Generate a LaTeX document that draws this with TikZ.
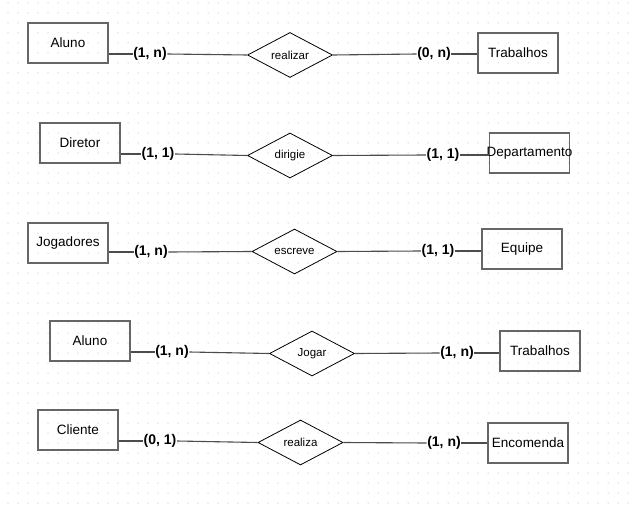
\documentclass[tikz,border=0pt]{standalone}
\usepackage{fontspec}
\setmainfont{Liberation Sans}
\usetikzlibrary{shapes.geometric}
\begin{document}
\begin{tikzpicture}[x=1pt,y=-1pt,
  entity/.style={draw=black!60, line width=1.6pt, minimum width=80pt, minimum height=40pt, inner sep=0pt, font=\fontsize{13.5}{16}\selectfont},
  rel/.style={draw=black, line width=0.8pt, diamond, aspect=1.9, minimum width=85pt, minimum height=45pt, inner sep=0pt, font=\fontsize{11.5}{14}\selectfont},
  card/.style={inner sep=0.5pt, font=\fontsize{14}{16}\selectfont\bfseries},
  conn/.style={draw=black!70, line width=1.1pt}]
\useasboundingbox[fill=white] (0,0) rectangle (631,513);
\foreach \i in {0,...,62}{\foreach \j in {0,...,50}{\fill[black!35] (8+10*\i,3+10*\j) circle (0.5);}}
% row 1
\node[entity] (e1a) at (68,43) {Aluno};
\node[rel] (r1) at (290,55) {realizar};
\node[entity] (e1b) at (518,53) {Trabalhos};
\node[card] (c1a) at (150,54) {(1, n)};
\node[card] (c1b) at (434,54) {(0, n)};
\draw[conn] (e1a.east |- c1a.west) -- (c1a.west);
\draw[conn] (c1a.east) -- (r1.west);
\draw[conn] (r1.east) -- (c1b.west);
\draw[conn] (c1b.east) -- (e1b.west |- c1b.east);
% row 2
\node[entity] (e2a) at (80,143) {Diretor};
\node[rel] (r2) at (290,155.5) {dirigie};
\node[entity] (e2b) at (529.5,153) {\makebox[0pt]{Departamento}};
\node[card] (c2a) at (158,154) {(1, 1)};
\node[card] (c2b) at (443,155) {(1, 1)};
\draw[conn] (e2a.east |- c2a.west) -- (c2a.west);
\draw[conn] (c2a.east) -- (r2.west);
\draw[conn] (r2.east) -- (c2b.west);
\draw[conn] (c2b.east) -- (e2b.west |- c2b.east);
% row 3
\node[entity] (e3a) at (68,243) {Jogadores};
\node[rel] (r3) at (294.5,251.5) {escreve};
\node[entity] (e3b) at (522,249) {Equipe};
\node[card] (c3a) at (151,252) {(1, n)};
\node[card] (c3b) at (438,251) {(1, 1)};
\draw[conn] (e3a.east |- c3a.west) -- (c3a.west);
\draw[conn] (c3a.east) -- (r3.west);
\draw[conn] (r3.east) -- (c3b.west);
\draw[conn] (c3b.east) -- (e3b.west |- c3b.east);
% row 4
\node[entity] (e4a) at (90,341) {Aluno};
\node[rel] (r4) at (312,353.5) {Jogar};
\node[entity] (e4b) at (540,351) {Trabalhos};
\node[card] (c4a) at (172,352) {(1, n)};
\node[card] (c4b) at (457,353) {(1, n)};
\draw[conn] (e4a.east |- c4a.west) -- (c4a.west);
\draw[conn] (c4a.east) -- (r4.west);
\draw[conn] (r4.east) -- (c4b.west);
\draw[conn] (c4b.east) -- (e4b.west |- c4b.east);
% row 5
\node[entity] (e5a) at (78,430) {Cliente};
\node[rel] (r5) at (300.5,442.5) {realiza};
\node[entity] (e5b) at (528,443) {Encomenda};
\node[card] (c5a) at (160,441) {(0, 1)};
\node[card] (c5b) at (444,443) {(1, n)};
\draw[conn] (e5a.east |- c5a.west) -- (c5a.west);
\draw[conn] (c5a.east) -- (r5.west);
\draw[conn] (r5.east) -- (c5b.west);
\draw[conn] (c5b.east) -- (e5b.west |- c5b.east);
\end{tikzpicture}
\end{document}
